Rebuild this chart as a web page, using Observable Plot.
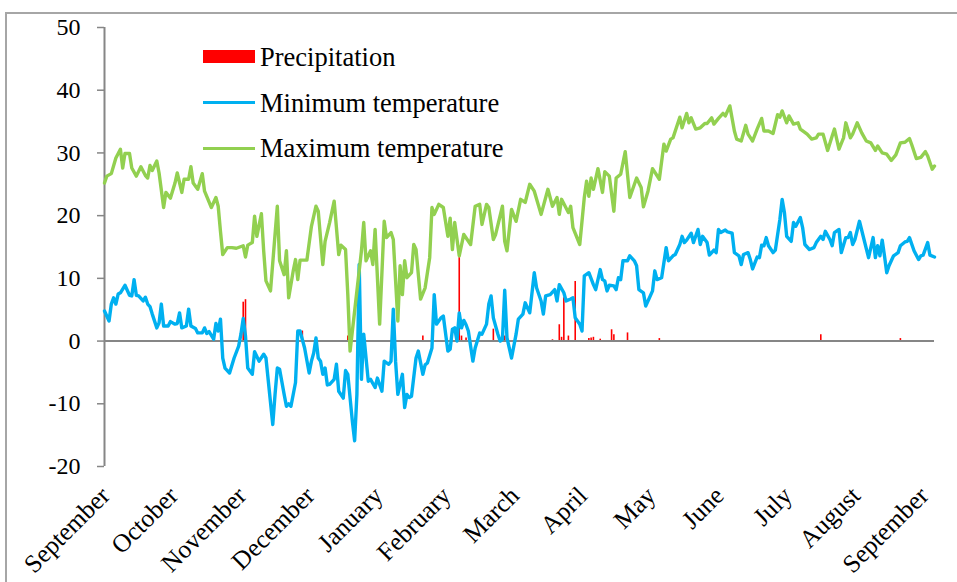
<!DOCTYPE html>
<html>
<head>
<meta charset="utf-8">
<script src="https://cdn.jsdelivr.net/npm/d3@7"></script>
<script src="https://cdn.jsdelivr.net/npm/@observablehq/plot@0.6"></script>
<style>
  html, body { margin: 0; padding: 0; background: #fff; }
  #wrap { position: relative; width: 957px; height: 582px; overflow: hidden; font-family: "Liberation Serif", "Times New Roman", serif; }
  #frame { position: absolute; left: 5px; top: 12px; width: 1000px; height: 1000px; border-left: 2px solid #a6a6a6; border-top: 2px solid #a6a6a6; }
  #chart { position: absolute; left: 0; top: 0; }
  .lg { position: absolute; font-size: 26.5px; line-height: 26px; color: #000; white-space: nowrap; }
  .sw { position: absolute; }
</style>
</head>
<body>
<div id="wrap">
  <div id="frame"></div>
  <div id="chart"></div>
  <div id="legend"></div>
</div>
<script>
// Month tick labels (one every 30 daily categories)
const months = ["September","October","November","December","January","February","March","April","May","June","July","August","September"];
const monthTicks = [0,30,60,90,120,150,180,210,240,270,300,330,360];
const yTicks = [-20,-10,0,10,20,30,40,50];

// Maximum temperature (day index from 1 September, °C)
const maxDays = [0,1,3,5,7,8,9,11,12,14,16,18,19,20,21,23,24,26,27,29,31,32,34,35,37,38,39,41,43,44,47,49,50,51,52,54,56,58,61,62,63,65,66,67,69,70,71,73,76,77,79,80,81,83,84,85,86,89,91,93,94,96,97,99,101,103,104,106,107,108,110,113,114,115,117,118,119,121,123,124,126,127,129,130,131,132,133,135,136,137,139,141,143,144,145,147,149,151,152,153,154,156,158,161,163,165,166,168,169,171,172,175,176,177,179,181,183,185,187,189,192,195,197,199,200,201,204,205,206,209,211,212,213,214,215,217,219,220,222,224,225,227,229,231,234,236,237,239,241,244,246,247,249,250,253,254,256,257,258,260,262,264,265,267,268,270,272,273,275,277,278,280,282,283,285,287,289,290,292,294,296,297,298,300,301,303,305,306,309,311,313,314,316,318,320,321,323,325,326,328,329,331,333,335,337,339,340,342,344,346,348,350,352,354,355,357,359,361,362,364,365];
const maxTemp = [25.2,26.3,26.7,29.2,30.6,27.6,29.9,29.9,27.6,26.3,27.8,26.4,26.0,28.0,27.2,28.7,26.8,21.3,23.7,22.8,25.2,26.8,23.7,25.8,25.8,27.8,25.2,24.2,26.7,23.9,21.3,22.9,21.5,17.5,13.8,14.9,14.9,14.8,15.2,13.4,15.3,15.7,19.9,16.7,20.3,14.4,9.6,8.0,21.5,12.8,10.6,14.4,6.9,11.2,13.0,9.8,12.9,12.9,18.3,21.5,20.7,12.2,15.9,18.9,22.3,13.8,15.3,14.6,7.4,-1.6,4.8,14.4,18.9,12.8,14.4,12.2,17.8,2.7,19.1,16.5,17.3,16.2,3.2,12.0,7.4,12.8,10.1,10.9,15.4,14.6,6.7,8.5,13.3,21.3,20.2,21.8,21.3,16.7,19.6,14.6,18.9,13.6,17.0,15.4,21.5,21.8,18.6,21.8,21.3,16.2,17.0,21.5,15.9,14.4,21.0,19.1,22.6,22.1,25.0,23.9,20.2,24.2,21.5,22.9,20.2,22.6,20.5,21.5,18.1,15.4,22.9,25.5,23.1,26.0,24.2,27.5,23.7,27.0,26.3,20.7,26.0,26.6,30.2,22.9,26.0,24.5,21.4,23.9,27.5,25.8,31.4,30.3,32.2,32.4,35.7,34.0,36.3,34.8,35.6,33.8,34.0,34.7,34.7,35.6,34.6,35.5,36.3,35.9,37.5,33.5,32.2,31.9,34.4,33.0,31.9,33.8,35.5,33.5,33.5,33.1,36.1,35.7,36.7,34.8,35.9,34.6,34.8,33.8,33.0,32.2,32.4,33.0,33.0,30.4,32.7,33.8,30.6,32.4,34.8,32.4,33.0,34.8,33.2,31.9,31.6,30.4,31.1,30.0,29.8,28.8,29.7,31.6,31.7,32.3,31.3,29.1,29.3,30.2,29.5,27.4,27.9];

// Minimum temperature (day index, °C)
const minDays = [0,2,3,4,5,6,7,9,11,12,13,14,15,17,18,19,20,21,23,24,25,26,28,29,31,32,33,34,36,37,38,40,41,43,44,45,46,48,49,50,51,52,53,55,57,59,60,61,62,63,65,66,68,70,71,74,75,76,77,79,80,81,82,84,85,86,88,90,91,92,93,94,95,96,97,98,99,101,102,103,105,106,107,109,110,111,112,113,114,116,117,119,120,122,123,125,126,127,128,129,131,132,133,134,135,137,138,140,141,142,144,145,146,148,149,151,152,153,154,155,156,157,158,159,160,162,163,165,166,168,169,170,171,173,174,175,176,177,179,181,182,184,185,187,189,190,192,193,194,196,198,199,200,202,203,205,206,207,209,210,211,213,215,216,218,219,220,221,222,224,225,226,227,228,230,231,233,234,235,237,238,239,241,242,243,245,247,248,250,251,253,254,255,256,258,259,261,262,263,265,266,268,269,270,271,273,274,276,277,279,280,281,283,284,285,287,288,289,290,291,292,294,295,297,298,299,300,302,303,304,306,307,308,310,312,313,315,316,317,319,320,321,323,324,326,327,328,329,330,332,334,336,338,339,340,341,342,343,344,345,347,349,350,352,353,354,356,358,359,360,362,363,365];
const minTemp = [4.8,3.2,5.9,6.9,5.9,7.5,7.7,8.9,7.3,7.2,9.8,7.3,7.2,6.4,7.0,5.9,5.5,4.3,2.1,2.9,5.9,2.4,2.4,3.1,2.7,2.8,4.5,2.1,2.4,5.1,2.4,2.0,1.3,1.3,2.1,1.2,1.5,0.3,2.8,1.6,3.5,-2.7,-4.3,-5.1,-2.7,-0.8,1.1,3.6,0.8,-4.3,-5.3,-1.7,-3.2,-2.1,-2.7,-13.3,-8.5,-4.3,-4.5,-8.5,-10.4,-10.0,-10.4,-6.6,1.6,1.6,-1.1,-5.1,-3.2,-1.9,0.5,-2.7,-3.2,-5.3,-4.3,-7.0,-6.9,-6.1,-3.7,-8.0,-9.1,-4.7,-5.3,-12.8,-15.9,-8.5,12.2,-6.1,1.1,-6.4,-6.1,-7.4,-5.9,-8.0,-3.2,-3.7,-3.2,5.1,-3.2,-8.5,-5.3,-10.6,-8.5,-9.0,-8.8,-2.7,-1.6,-5.3,-3.8,-3.5,-1.1,7.4,2.7,3.7,4.0,-1.6,-1.3,1.9,2.1,0.0,4.5,2.1,3.3,2.6,1.6,-3.2,-1.1,1.3,1.1,2.7,5.9,7.2,3.7,1.1,0.0,0.3,8.1,0.5,-2.7,1.1,3.5,4.3,6.1,4.5,10.9,8.5,6.4,4.3,7.2,7.4,8.2,6.4,9.0,7.7,6.4,6.7,6.9,3.7,2.7,1.6,10.4,10.9,9.0,8.2,11.4,9.8,9.6,8.0,8.9,8.8,8.2,10.1,9.8,12.8,12.8,13.6,12.8,12.0,8.2,7.7,5.6,6.4,8.0,11.2,9.8,10.1,14.9,12.8,13.6,13.8,15.4,16.7,15.7,16.1,17.2,15.7,17.8,15.4,16.7,15.7,13.7,14.5,14.1,17.8,17.3,17.7,17.4,17.2,14.1,13.6,12.2,13.8,14.1,13.0,11.5,13.4,13.3,15.3,15.2,16.5,15.2,14.1,14.5,19.4,22.6,20.5,16.7,15.9,18.9,18.3,19.7,18.1,15.4,14.6,14.9,15.7,16.7,16.2,17.5,16.2,15.2,17.3,17.8,14.1,16.5,16.5,17.3,15.4,16.2,19.1,16.2,13.3,16.5,13.3,15.2,13.6,16.1,13.6,10.9,12.0,13.6,14.1,15.2,15.8,15.9,16.5,14.4,13.0,13.6,13.7,15.7,13.7,13.4];

// Precipitation (day index, mm)
const precipDays = [61,62,87,107,140,156,157,159,171,176,197,200,201,202,204,207,213,214,215,218,223,224,230,244,315,350];
const precip = [6.2,6.6,1.6,0.8,0.8,13.3,0.8,0.5,1.9,0.8,0.2,2.6,0.6,6.9,0.8,9.5,0.4,0.5,0.6,0.3,1.8,1.0,1.3,0.4,1.0,0.4];

const blue = "#00B0F0", green = "#92D050", red = "#FF0000", gray = "#868686";
const serif = "'Liberation Serif', 'Times New Roman', serif";

const chart = Plot.plot({
  width: 957,
  height: 582,
  marginLeft: 104,
  marginRight: 23,
  marginTop: 27,
  marginBottom: 116,
  style: { fontFamily: serif, background: "transparent", overflow: "visible" },
  x: { domain: [0, 365], axis: null },
  y: { domain: [-20, 50], axis: null },
  marks: [
    Plot.ruleX(precip, { x: precipDays, y1: 0, y2: d => d, stroke: red, strokeWidth: 1.6 }),
    Plot.ruleY([0], { stroke: gray, strokeWidth: 2 }),
    Plot.ruleX([0], { stroke: gray, strokeWidth: 2 }),
    Plot.axisY(yTicks, {
      anchor: "left", tickSize: 7, tickPadding: 17, stroke: gray, strokeWidth: 1.5,
      fill: "#000", fontSize: 24, fontFamily: serif, tickFormat: d => String(d), label: null
    }),
    Plot.lineY(minTemp, { x: minDays, stroke: blue, strokeWidth: 3.4, strokeLinejoin: "round" }),
    Plot.lineY(maxTemp, { x: maxDays, stroke: green, strokeWidth: 3.4, strokeLinejoin: "round" }),
    Plot.text(months, {
      x: monthTicks, y: () => -20, text: d => d, rotate: -45, textAnchor: "end",
      dx: 1, dy: 25, fontSize: 25.5, fontFamily: serif, fill: "#000"
    })
  ]
});
document.getElementById("chart").appendChild(chart);

// Legend (inside the plot area, upper left)
const legendItems = [
  { name: "Precipitation", color: red, kind: "box" },
  { name: "Minimum temperature", color: blue, kind: "line" },
  { name: "Maximum temperature", color: green, kind: "line" }
];
const lg = document.getElementById("legend");
legendItems.forEach((it, i) => {
  const cy = 57 + i * 45.5;
  const sw = document.createElement("div");
  sw.className = "sw";
  sw.style.left = "203px";
  sw.style.width = "52px";
  sw.style.background = it.color;
  if (it.kind === "box") { sw.style.top = (cy - 7) + "px"; sw.style.height = "13px"; }
  else { sw.style.top = (cy - 1.5) + "px"; sw.style.height = "3px"; }
  lg.appendChild(sw);
  const t = document.createElement("div");
  t.className = "lg";
  t.style.left = "260px";
  t.style.top = (cy - 13) + "px";
  t.textContent = it.name;
  lg.appendChild(t);
});
</script>
</body>
</html>
